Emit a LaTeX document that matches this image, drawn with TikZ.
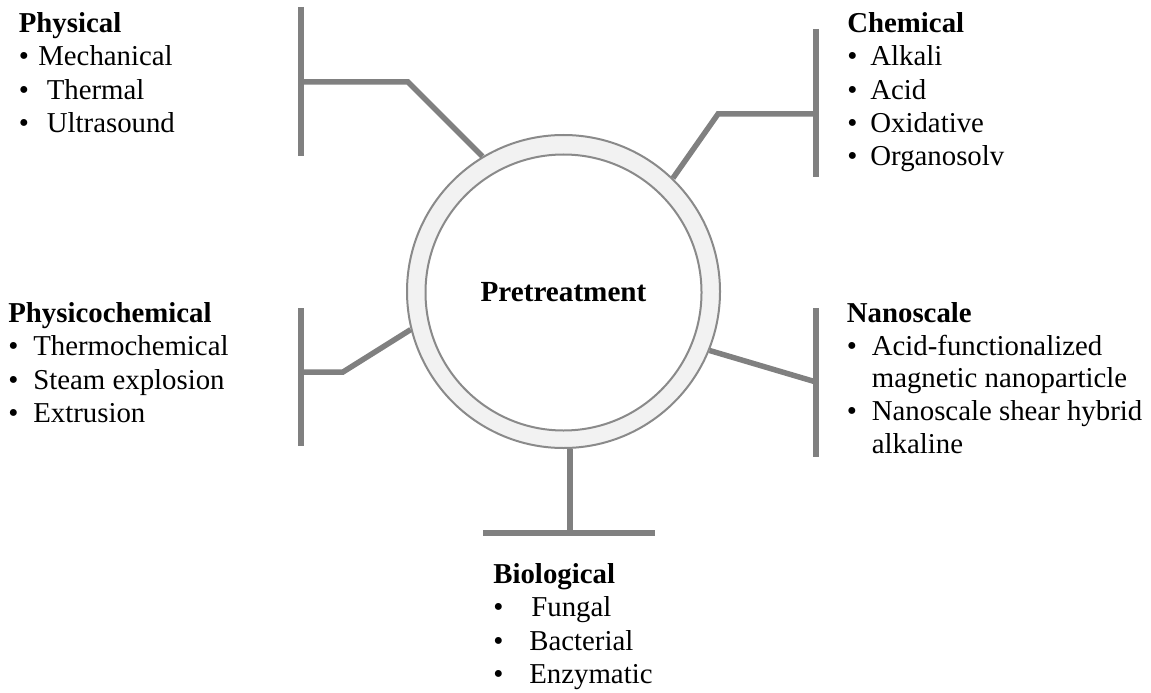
\documentclass[tikz,border=0pt]{standalone}
\usepackage{fontspec}
\setmainfont{Liberation Serif}
\usepackage{tikz}

\definecolor{linegray}{HTML}{808080}
\definecolor{ringfill}{HTML}{F2F2F2}
\definecolor{ringline}{HTML}{8A8A8A}

\newlength\px
\setlength\px{0.02cm}
% bullet item with a given gap (in px) before the text
\newcommand\itm[2]{\makebox[#1\px][l]{\textbullet}#2}

\begin{document}
\begin{tikzpicture}[x=0.02cm, y=-0.02cm,
    branch/.style={linegray, line width=5.5\px},
    group/.style={anchor=north west, inner sep=0pt, align=left,
        font=\fontsize{16.4}{19}\selectfont}]
    \useasboundingbox (0,0) rectangle (1151,692);

    % Central ring
    \node[circle, draw=ringline, line width=2\px, fill=ringfill,
        minimum size=313\px, inner sep=0pt] (ring) at (563.5,291.5) {};
    \node[circle, draw=ringline, line width=2\px, fill=white,
        minimum size=276\px, inner sep=0pt,
        font=\bfseries\fontsize{16.6}{19}\selectfont] (core) at (563.5,292.5) {Pretreatment};

    % Physical
    \node[group] (physical) at (18.5,12) {\textbf{Physical}\\
        \itm{19.5}{Mechanical}\\
        \itm{28}{Thermal}\\
        \itm{28}{Ultrasound}};
    \coordinate (physTop) at (301,7);
    \coordinate (physBot) at (301,156);
    \coordinate (physJoin) at (301,82);
    \coordinate (physBend) at (408,82);
    \draw[branch] (physTop) -- (physBot);
    \draw[branch] (physJoin) -- (physBend) -- (ring.121);

    % Chemical
    \node[group] (chemical) at (847,12) {\textbf{Chemical}\\
        \itm{23}{Alkali}\\
        \itm{23}{Acid}\\
        \itm{23}{Oxidative}\\
        \itm{23}{Organosolv}};
    \coordinate (chemTop) at (816,29);
    \coordinate (chemBot) at (816,177);
    \coordinate (chemJoin) at (816,114);
    \coordinate (chemBend) at (718,114);
    \draw[branch] (chemTop) -- (chemBot);
    \draw[branch] (chemJoin) -- (chemBend) -- (ring.46);

    % Physicochemical
    \node[group] (physchem) at (8,302) {\textbf{Physicochemical}\\
        \itm{25}{Thermochemical}\\
        \itm{25}{Steam explosion}\\
        \itm{25}{Extrusion}};
    \coordinate (pcTop) at (301,308);
    \coordinate (pcBot) at (301,446);
    \coordinate (pcJoin) at (301,372);
    \coordinate (pcBend) at (343,372);
    \draw[branch] (pcTop) -- (pcBot);
    \draw[branch] (pcJoin) -- (pcBend) -- (ring.194);

    % Nanoscale
    \node[group, font=\fontsize{16.4}{18.6}\selectfont] (nano) at (846.5,302) {\textbf{Nanoscale}\\
        \itm{25}{Acid-functionalized}\\
        \hspace*{25\px}magnetic nanoparticle\\
        \itm{25}{Nanoscale shear hybrid}\\
        \hspace*{25\px}alkaline};
    \coordinate (nanoTop) at (816,308);
    \coordinate (nanoBot) at (816,457);
    \coordinate (nanoJoin) at (816,382);
    \draw[branch] (nanoTop) -- (nanoBot);
    \draw[branch] (nanoJoin) -- (ring.338);

    % Biological
    \node[group] (bio) at (493,563) {\textbf{Biological}\\
        \itm{38}{Fungal}\\
        \itm{36}{Bacterial}\\
        \itm{36}{Enzymatic}};
    \coordinate (bioLeft) at (483,533);
    \coordinate (bioRight) at (655,533);
    \coordinate (bioJoin) at (570,533);
    \draw[branch] (bioLeft) -- (bioRight);
    \draw[branch] (bioJoin) -- (bioJoin |- ring.south);
\end{tikzpicture}
\end{document}
